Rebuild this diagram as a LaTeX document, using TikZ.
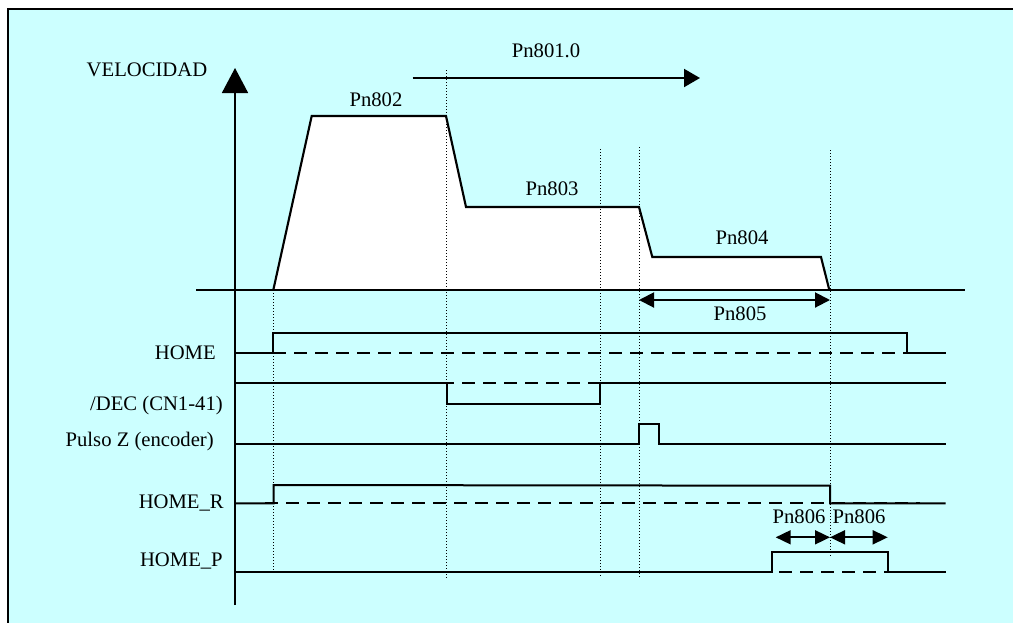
\documentclass[tikz,border=0pt]{standalone}
\usepackage{fontspec}
\setmainfont{Liberation Serif}
\usetikzlibrary{arrows.meta}
\definecolor{bgcyan}{RGB}{204,255,255}
\tikzset{
  sig/.style={line width=1.5pt, line join=miter},
  dsh/.style={line width=1.5pt, dash pattern=on 9.75pt off 6pt},
  vdot/.style={line width=0.75pt, dash pattern=on 0.75pt off 1.5pt},
  lbl/.style={inner sep=0pt, font=\fontsize{15.5}{18}\selectfont},
  prof/.style={line width=1.6pt, line join=miter, fill=white},
}
\begin{document}
\begin{tikzpicture}[x=0.75pt,y=-0.75pt]
\useasboundingbox (0,0) rectangle (1013,622);
\clip (0,0) rectangle (1013,622);
% frame
\draw[line width=1.4pt, fill=bgcyan] (8,9) rectangle (1030,640);
% velocity profile fill
\fill[white] (273.3,290) -- (311.7,116) -- (446,116) -- (466,207) -- (639,207) -- (652.3,257) -- (821,257) -- (829.3,290) -- cycle;
% dotted guides
\draw[vdot] (273.3,290) -- (273.3,575);
\draw[vdot] (446,70) -- (446,578);
\draw[vdot] (600,149) -- (600,576);
\draw[vdot] (639,147) -- (639,577);
\draw[vdot] (830,150) -- (830,557);
% axes
\coordinate (vbot) at (235,605);
\coordinate (vtop) at (235,68);
\draw[line width=1.3pt, -{Triangle[length=18.75pt,width=19.5pt]}] (vbot) -- (vtop);
\coordinate (hl) at (196,290);
\coordinate (hr) at (965,290);
\draw[line width=1.3pt] (hl) -- (hr);
% profile outline
\draw[line width=1.6pt, line join=miter] (273.3,290) -- (311.7,116) -- (446,116) -- (466,207) -- (639,207) -- (652.3,257) -- (821,257) -- (829.3,290);
% Pn801.0 arrow
\coordinate (a801s) at (412.5,78);
\coordinate (a801e) at (700,78);
\draw[line width=1.5pt, -{Triangle[length=12pt,width=13.5pt]}] (a801s) -- (a801e);
% Pn805 arrow
\coordinate (a805s) at (639,300);
\coordinate (a805e) at (830,300);
\draw[line width=1.5pt, {Triangle[length=11.25pt,width=11.25pt]}-{Triangle[length=11.25pt,width=11.25pt]}] (a805s) -- (a805e);
% HOME
\draw[dsh] (273.3,353) -- (907,353);
\draw[sig] (235,353) -- (273.3,353) -- (273.3,333.3) -- (907,333.3) -- (907,353) -- (945.7,353);
% /DEC
\draw[dsh] (273.3,383.3) -- (945.7,383.3);
\draw[sig] (235,383.3) -- (446.5,383.3) -- (446.5,404.3) -- (600,404.3) -- (600,383.3) -- (945.7,383.3);
% Pulso Z
\draw[sig] (235,444) -- (638.5,444) -- (638.5,424.3) -- (658.7,424.3) -- (658.7,444) -- (945.7,444);
% HOME_R
\draw[dsh] (265,503.3) -- (920,503.3);
\draw[sig] (235,503.3) -- (273.7,503.3) -- (273.7,485) -- (830,485.7) -- (830,503.3) -- (945.7,503.3);
% HOME_P
\draw[dsh] (296,571.7) -- (945.7,571.7);
\draw[sig] (235,571.7) -- (772.3,571.7) -- (772.3,552.3) -- (887.7,552.3) -- (887.7,571.7) -- (945.7,571.7);
% Pn806 arrows
\coordinate (p806a) at (775.7,537.3);
\coordinate (p806m) at (830,537.3);
\coordinate (p806b) at (887.7,537.3);
\draw[line width=1.3pt, {Triangle[length=11.25pt,width=10.5pt]}-{Triangle[length=11.25pt,width=10.5pt]}] (p806a) -- (p806m);
\draw[line width=1.3pt, {Triangle[length=11.25pt,width=10.5pt]}-{Triangle[length=11.25pt,width=10.5pt]}] (p806m) -- (p806b);
% labels
\node[lbl] (tvel) at (147,70) {VELOCIDAD};
\node[lbl] (t801) at (546,51) {Pn801.0};
\node[lbl] (t802) at (376,100) {Pn802};
\node[lbl] (t803) at (552,189) {Pn803};
\node[lbl] (t804) at (742,238) {Pn804};
\node[lbl] (t805) at (740,314) {Pn805};
\node[lbl, anchor=east] (thome) at (216,353) {HOME};
\node[lbl, anchor=east] (tdec) at (223,406) {/DEC (CN1-41)};
\node[lbl, anchor=east] (tpz) at (214,442) {Pulso Z (encoder)};
\node[lbl, anchor=east] (thr) at (224,503) {HOME\_R};
\node[lbl, anchor=east] (thp) at (223,561) {HOME\_P};
\node[lbl] (t806a) at (799,517) {Pn806};
\node[lbl] (t806b) at (859,517) {Pn806};
\end{tikzpicture}
\end{document}
